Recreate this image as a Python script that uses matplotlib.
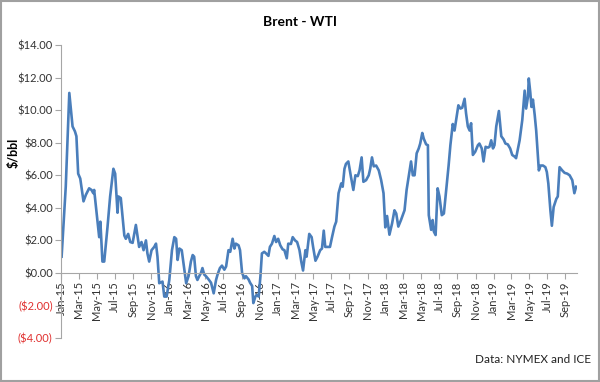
import matplotlib
matplotlib.use('Agg')
import matplotlib.pyplot as plt
import matplotlib.dates as mdates
from matplotlib.ticker import FuncFormatter
import pandas as pd

plt.rcParams['font.family'] = ['Lato', 'DejaVu Sans']

# Brent - WTI spread, $/bbl
dates = [
    '2015-01-02', '2015-01-16', '2015-01-28', '2015-02-08', '2015-02-16', '2015-02-21', '2015-02-27',
    '2015-03-06', '2015-03-17', '2015-03-25', '2015-04-05', '2015-04-13', '2015-04-19', '2015-04-22',
    '2015-05-03', '2015-05-09', '2015-05-13', '2015-05-20', '2015-05-26', '2015-06-06', '2015-06-15',
    '2015-06-26', '2015-07-02', '2015-07-10', '2015-07-13', '2015-07-21', '2015-08-02', '2015-08-07',
    '2015-08-15', '2015-08-22', '2015-08-30', '2015-09-10', '2015-09-21', '2015-09-29', '2015-10-06',
    '2015-10-14', '2015-10-19', '2015-10-25', '2015-11-02', '2015-11-11', '2015-11-17', '2015-11-22',
    '2015-11-28', '2015-12-09', '2015-12-15', '2015-12-23', '2016-01-01', '2016-01-10', '2016-01-18',
    '2016-01-24', '2016-01-29', '2016-02-04', '2016-02-12', '2016-02-21', '2016-02-27', '2016-03-06',
    '2016-03-14', '2016-03-20', '2016-03-25', '2016-03-31', '2016-04-05', '2016-04-11', '2016-04-17',
    '2016-04-22', '2016-04-28', '2016-05-04', '2016-05-13', '2016-05-21', '2016-05-30', '2016-06-07',
    '2016-06-12', '2016-06-20', '2016-06-27', '2016-07-05', '2016-07-11', '2016-07-19', '2016-07-25',
    '2016-08-02', '2016-08-08', '2016-08-13', '2016-08-22', '2016-08-27', '2016-09-03', '2016-09-11',
    '2016-09-16', '2016-09-25', '2016-09-30', '2016-10-07', '2016-10-11', '2016-10-18', '2016-10-22',
    '2016-10-29', '2016-11-04', '2016-11-09', '2016-11-17', '2016-11-23', '2016-12-01', '2016-12-06',
    '2016-12-13', '2016-12-21', '2016-12-27', '2017-01-03', '2017-01-10', '2017-01-18', '2017-01-24',
    '2017-02-01', '2017-02-06', '2017-02-15', '2017-02-21', '2017-03-01', '2017-03-08', '2017-03-16',
    '2017-03-22', '2017-03-28', '2017-04-05', '2017-04-09', '2017-04-18', '2017-04-26', '2017-05-01',
    '2017-05-09', '2017-05-16', '2017-05-25', '2017-05-31', '2017-06-06', '2017-06-11', '2017-06-19',
    '2017-06-27', '2017-07-04', '2017-07-12', '2017-07-18', '2017-07-26', '2017-08-04', '2017-08-09',
    '2017-08-15', '2017-08-20', '2017-08-28', '2017-09-06', '2017-09-14', '2017-09-21', '2017-09-29',
    '2017-10-05', '2017-10-12', '2017-10-18', '2017-10-27', '2017-11-05', '2017-11-10', '2017-11-16',
    '2017-11-22', '2017-11-30', '2017-12-09', '2017-12-17', '2017-12-25', '2017-12-31', '2018-01-06',
    '2018-01-14', '2018-01-23', '2018-01-31', '2018-02-06', '2018-02-13', '2018-02-22', '2018-03-06',
    '2018-03-13', '2018-03-20', '2018-03-28', '2018-04-03', '2018-04-09', '2018-04-16', '2018-04-23',
    '2018-04-28', '2018-05-05', '2018-05-10', '2018-05-18', '2018-05-24', '2018-05-27', '2018-06-04',
    '2018-06-09', '2018-06-13', '2018-06-19', '2018-06-26', '2018-07-02', '2018-07-10', '2018-07-17',
    '2018-07-25', '2018-08-02', '2018-08-08', '2018-08-16', '2018-08-22', '2018-08-30', '2018-09-04',
    '2018-09-11', '2018-09-17', '2018-09-25', '2018-09-30', '2018-10-06', '2018-10-12', '2018-10-17',
    '2018-10-23', '2018-10-31', '2018-11-09', '2018-11-14', '2018-11-22', '2018-11-28', '2018-12-05',
    '2018-12-13', '2018-12-18', '2018-12-24', '2018-12-30', '2019-01-04', '2019-01-10', '2019-01-19',
    '2019-01-27', '2019-02-04', '2019-02-10', '2019-02-18', '2019-02-26', '2019-03-05', '2019-03-13',
    '2019-03-18', '2019-03-30', '2019-04-08', '2019-04-16', '2019-04-21', '2019-04-27', '2019-04-30',
    '2019-05-05', '2019-05-09', '2019-05-14', '2019-05-20', '2019-05-25', '2019-06-03', '2019-06-09',
    '2019-06-17', '2019-06-25', '2019-06-30', '2019-07-05', '2019-07-12', '2019-07-17', '2019-07-23',
    '2019-08-01', '2019-08-06', '2019-08-12', '2019-08-21', '2019-08-29', '2019-09-07', '2019-09-15',
    '2019-09-24', '2019-10-01', '2019-10-07',
]
spread = [
    1.0, 5.3, 11.06, 9.0, 8.7, 8.4, 6.1,
    5.8, 4.4, 4.8, 5.2, 5.1, 4.9, 5.1,
    3.25, 2.2, 3.15, 0.7, 0.7, 2.8, 4.7,
    6.4, 6.1, 3.7, 4.7, 4.6, 2.3, 2.1,
    2.4, 1.9, 1.85, 2.95, 1.6, 1.9, 1.4,
    2.0, 1.2, 0.7, 1.4, 1.6, 1.8, 1.0,
    -0.63, -0.53, -1.45, -1.45, -0.43, 1.4, 2.2,
    2.1, 0.8, 1.5, 1.4, 0.2, -0.63, -0.2,
    0.7, 1.1, 1.0, -0.2, -0.43, -0.2, 0.0,
    0.3, -0.1, -0.2, -0.4, -0.6, -1.25, -0.43,
    -0.1, 0.3, 0.45, 0.2, 0.4, 1.4, 1.3,
    2.1, 1.5, 1.8, 1.7, 1.4, 0.0, -0.33,
    -0.2, -0.4, -0.6, -0.8, -1.85, -1.45, -1.35,
    -1.45, -0.2, 1.2, 1.3, 1.2, 1.05, 1.6,
    1.8, 2.27, 1.9, 2.1, 1.7, 1.45, 1.4,
    0.9, 1.8, 1.78, 2.2, 2.0, 1.9, 1.4,
    0.7, 0.15, 1.4, 1.0, 2.4, 2.2, 1.6,
    0.75, 1.0, 1.4, 1.5, 2.6, 1.6, 1.6,
    1.6, 2.2, 2.85, 3.15, 4.9, 5.5, 5.3,
    6.4, 6.7, 6.85, 5.9, 5.1, 6.0, 5.95,
    6.3, 7.1, 5.6, 5.7, 6.0, 6.4, 7.1,
    6.55, 6.6, 6.3, 5.7, 4.9, 2.8, 3.5,
    2.35, 3.05, 3.85, 3.65, 2.85, 3.25, 3.85,
    5.1, 5.9, 6.85, 6.0, 6.0, 7.35, 7.65,
    7.95, 8.6, 8.25, 7.9, 7.85, 3.55, 2.65,
    3.25, 2.55, 2.33, 5.2, 4.7, 3.55, 3.65,
    5.1, 6.6, 7.85, 9.15, 8.75, 9.7, 10.3,
    10.1, 10.15, 10.7, 9.8, 9.0, 8.75, 9.2,
    7.25, 7.45, 7.85, 7.95, 7.65, 6.85, 7.75,
    7.7, 7.75, 8.15, 7.65, 7.85, 9.0, 9.95,
    8.4, 8.2, 7.95, 7.9, 7.65, 7.25, 7.15,
    7.05, 8.15, 9.4, 11.2, 10.1, 10.8, 11.95,
    11.1, 10.2, 10.65, 9.7, 8.75, 6.3, 6.6,
    6.6, 6.5, 6.2, 5.5, 3.85, 2.9, 4.05,
    4.55, 4.7, 6.5, 6.3, 6.15, 6.1, 6.0,
    5.7, 4.9, 5.3,
]
y_ticks = [-4, -2, 0, 2, 4, 6, 8, 10, 12, 14]

df = pd.DataFrame({'date': pd.to_datetime(dates), 'spread': spread})

fig = plt.figure(figsize=(6.0, 3.82), dpi=100)
ax = fig.add_axes([0.1017, 0.115, 0.86, 0.767])

ax.plot(df['date'], df['spread'], color='#4A7EBB', lw=1.9, solid_joinstyle='round')

ax.set_xlim(pd.Timestamp('2014-12-31'), pd.Timestamp('2019-10-10'))
ax.set_ylim(-4, 14)
ax.set_yticks(y_ticks)

def money(v, pos):
    if v < 0:
        return '(${:,.2f})'.format(-v)
    return '${:,.2f}'.format(v)

ax.yaxis.set_major_formatter(FuncFormatter(money))
for lbl, v in zip(ax.get_yticklabels(), y_ticks):
    if v < 0:
        lbl.set_color('#E0302F')
    else:
        lbl.set_color('#333333')

ax.xaxis.set_major_locator(mdates.MonthLocator(bymonth=[1, 3, 5, 7, 9, 11]))
ax.xaxis.set_major_formatter(mdates.DateFormatter('%b-%y'))

ax.tick_params(axis='both', labelsize=8, length=4, width=0.8, color='#A6A6A6', pad=2)
ax.tick_params(axis='x', labelrotation=90, labelcolor='#333333')

ax.spines['bottom'].set_position(('data', 0))
ax.spines['bottom'].set_color('#A6A6A6')
ax.spines['left'].set_color('#A6A6A6')
ax.spines['top'].set_visible(False)
ax.spines['right'].set_visible(False)

fig.text(0.5, 0.943, 'Brent - WTI', ha='center', va='center', fontsize=10, fontweight='bold')
fig.text(0.022, 0.6, '$/bbl', ha='center', va='center', rotation=90, fontsize=9, fontweight='bold')
fig.text(0.985, 0.06, 'Data: NYMEX and ICE', ha='right', va='center', fontsize=8.5, color='#222222')

# chart border
fig.patches.append(plt.Rectangle((0.002, 0.003), 0.996, 0.994, transform=fig.transFigure,
                                 fill=False, edgecolor='#A0A0A0', lw=1.5))

fig.savefig('out.png', dpi=100)
